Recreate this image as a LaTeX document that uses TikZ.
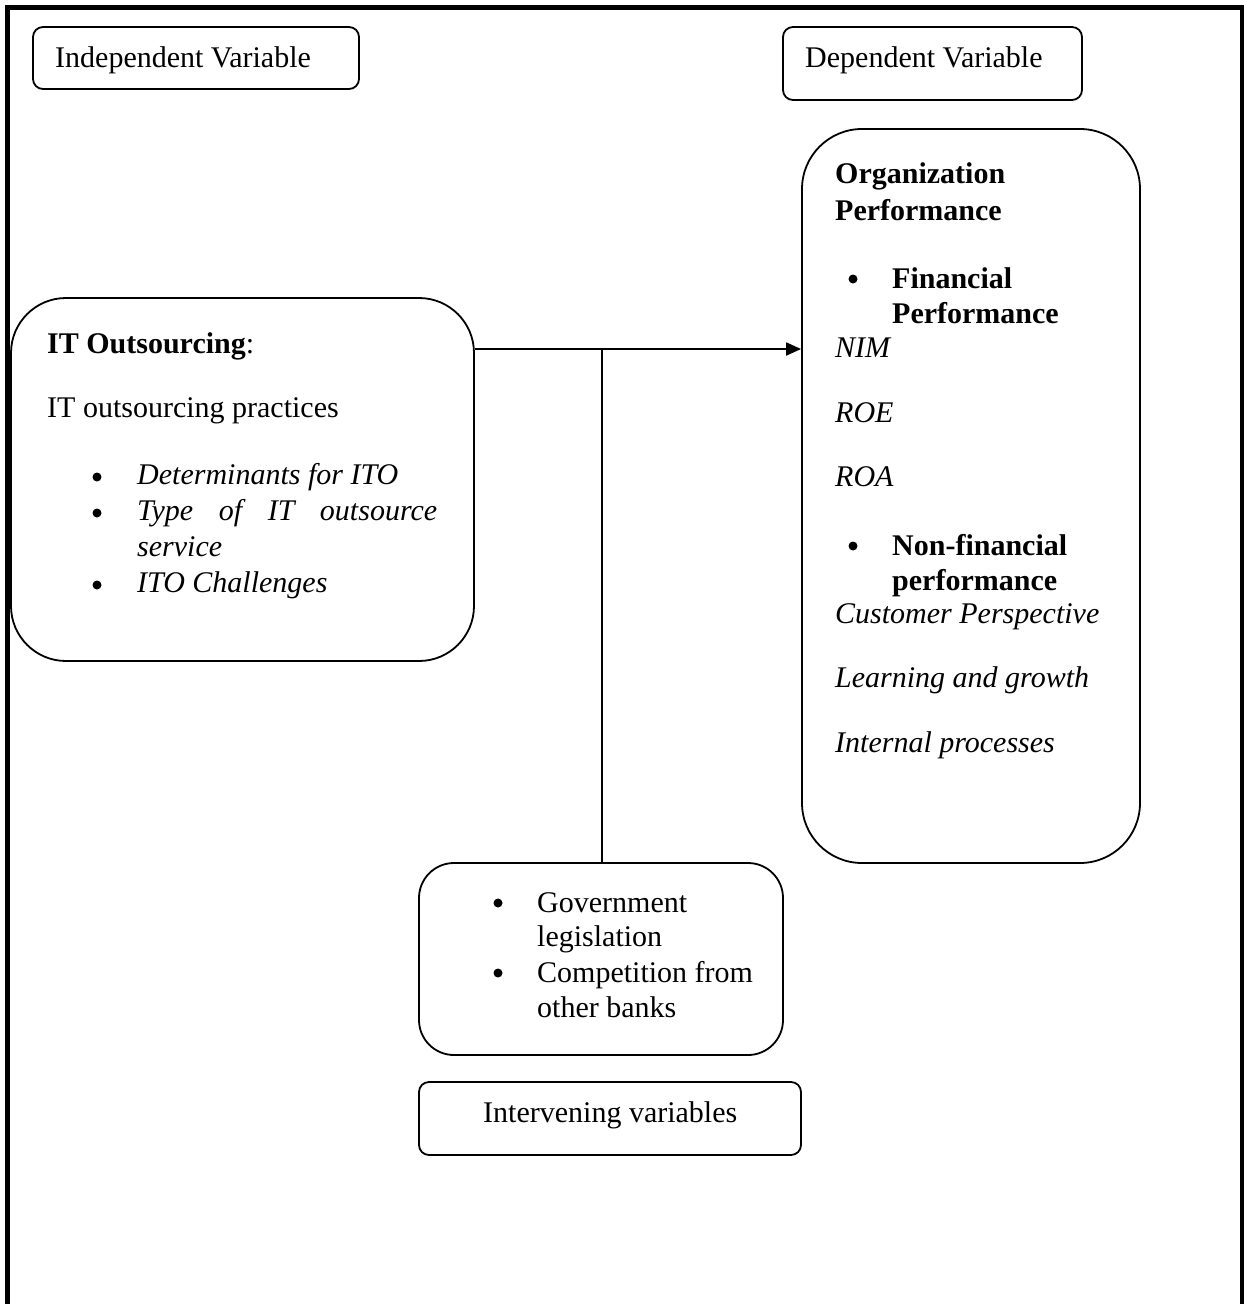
\documentclass[tikz,border=0pt]{standalone}
\usepackage{fontspec}
\setmainfont{Liberation Serif}
\usetikzlibrary{arrows.meta}
\begin{document}
\begin{tikzpicture}[x=1pt,y=-1pt,
  box/.style={draw, line width=1.8pt, minimum width=#1, inner sep=0pt},
  txt/.style={anchor=base west, inner sep=0pt, font=\fontsize{30}{36}\selectfont},
  bul/.style={circle, fill, inner sep=0pt, minimum size=9pt},
  frame/.style={line width=5pt, line join=miter},
  conn/.style={line width=1.8pt}]
\useasboundingbox (0,0) rectangle (1244,1304);
\draw[frame] (7.5,1310) -- (7.5,7) -- (1242,7) -- (1242,1310);

% boxes
\node[box=326, minimum height=62, rounded corners=10] (indep) at (196,58) {};
\node[box=299, minimum height=73, rounded corners=10] (dep) at (932.5,63.5) {};
\node[box=463, minimum height=363, rounded corners=55] (itbox) at (242.5,479.5) {};
\node[box=338, minimum height=734, rounded corners=60] (orgbox) at (971,496) {};
\node[box=364, minimum height=192, rounded corners=35] (govbox) at (601,959) {};
\node[box=382, minimum height=73, rounded corners=10] (intbox) at (610,1118.5) {};

% titles
\node[txt] (tindep) at (55,67) {Independent Variable};
\node[txt] (tdep) at (805,67) {Dependent Variable};
\node[txt] (tint) at (483,1122) {Intervening variables};

% IT outsourcing box
\node[txt] (it1) at (47,353) {\textbf{IT Outsourcing}:};
\node[txt] (it2) at (47,417) {IT outsourcing practices};
\node[bul] (itb1) at (97,477) {};
\node[txt] (it3) at (137,484) {\textit{Determinants for ITO}};
\node[bul] (itb2) at (97,513) {};
\node[txt] (it4) at (137,520) {\hbox to 300pt{\itshape Type\hfill of\hfill IT\hfill outsource}};
\node[txt] (it5) at (137,556) {\textit{service}};
\node[bul] (itb3) at (97,585) {};
\node[txt] (it6) at (137,592) {\textit{ITO Challenges}};

% Organization performance box
\node[txt] (o1) at (835,183) {\textbf{Organization}};
\node[txt] (o2) at (835,220) {\textbf{Performance}};
\node[bul] (ob1) at (853,279) {};
\node[txt] (o3) at (892,288) {\textbf{Financial}};
\node[txt] (o4) at (892,323) {\textbf{Performance}};
\node[txt] (o5) at (835,357) {\textit{NIM}};
\node[txt] (o6) at (835,422) {\textit{ROE}};
\node[txt] (o7) at (835,486) {\textit{ROA}};
\node[bul] (ob2) at (853,546) {};
\node[txt] (o8) at (892,555) {\textbf{Non-financial}};
\node[txt] (o9) at (892,590) {\textbf{performance}};
\node[txt] (o10) at (835,623) {\textit{Customer Perspective}};
\node[txt] (o11) at (835,687) {\textit{Learning and growth}};
\node[txt] (o12) at (835,752) {\textit{Internal processes}};

% intervening box
\node[bul] (gb1) at (498,903) {};
\node[txt] (g1) at (537,912) {Government};
\node[txt] (g2) at (537,946) {legislation};
\node[bul] (gb2) at (498,973) {};
\node[txt] (g3) at (537,982) {Competition from};
\node[txt] (g4) at (537,1017) {other banks};

% connectors
\coordinate (junc) at (602,349);
\draw[conn, -{Triangle[length=15pt,width=13pt]}] (itbox.east |- junc) -- (orgbox.west |- junc);
\draw[conn] (junc) -- (junc |- govbox.north);
\end{tikzpicture}
\end{document}
